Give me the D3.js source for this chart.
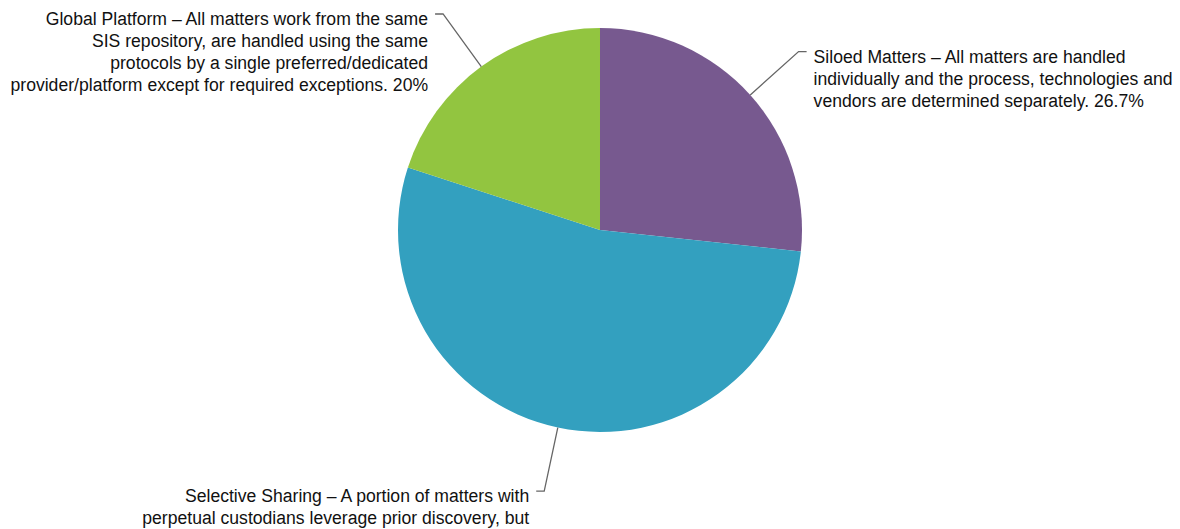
<!DOCTYPE html>
<html>
<head>
<meta charset="utf-8">
<script src="https://cdn.jsdelivr.net/npm/d3@7"></script>
<style>
  body { margin: 0; background: #fff; }
  text { font-family: "Liberation Sans", Arial, sans-serif; }
</style>
</head>
<body>
<div id="chart"></div>
<script>
// data
const categories = ["Siloed Matters", "Selective Sharing", "Global Platform"];
const values = [26.7, 53.3, 20];
const colours = ["#77598f", "#33a0bf", "#92c540"];
const labelLines = [
    ["Siloed Matters \u2013 All matters are handled",
     "individually and the process, technologies and",
     "vendors are determined separately. 26.7%"],
    ["Selective Sharing \u2013 A portion of matters with",
     "perpetual custodians leverage prior discovery, but"],
    ["Global Platform \u2013 All matters work from the same",
     "SIS repository, are handled using the same",
     "protocols by a single preferred/dedicated",
     "provider/platform except for required exceptions. 20%"]
];

const width = 1180, height = 529;
const cx = 600, cy = 230, radius = 202;

var svg = d3.select('#chart')
    .append('svg')
    .attr('width', width)
    .attr('height', height);

var g = svg.append('g')
    .attr('transform', 'translate(' + cx + ', ' + cy + ')');

var pie = d3.pie().sort(null).value(d => d);
var arcs = pie(values);
var arc = d3.arc().innerRadius(0).outerRadius(radius);

g.selectAll('path.slice')
    .data(arcs)
    .enter()
    .append('path')
    .attr('class', 'slice')
    .attr('d', arc)
    .attr('fill', (d, i) => colours[i]);

// leader lines + labels
const elbowR = 267, tail = 8, gap = 7, lineH = 22;
arcs.forEach(function(d, i) {
    var a = (d.startAngle + d.endAngle) / 2;
    var p0 = [radius * Math.sin(a), -radius * Math.cos(a)];
    var p1 = [elbowR * Math.sin(a), -elbowR * Math.cos(a)];
    var right = Math.sin(a) > 0;
    var p2 = [p1[0] + (right ? tail : -tail), p1[1]];

    g.append('polyline')
        .attr('points', [p0, p1, p2].map(p => p.join(',')).join(' '))
        .attr('fill', 'none')
        .attr('stroke', '#666')
        .attr('stroke-width', 1.3);

    var t = g.append('text')
        .attr('x', p2[0] + (right ? gap : -gap))
        .attr('y', p1[1] + 11)
        .attr('text-anchor', right ? 'start' : 'end')
        .attr('font-size', 17.6)
        .attr('fill', '#111');
    labelLines[i].forEach(function(line, j) {
        t.append('tspan')
            .attr('x', p2[0] + (right ? gap : -gap))
            .attr('dy', j === 0 ? 0 : lineH)
            .text(line);
    });
});
</script>
</body>
</html>
